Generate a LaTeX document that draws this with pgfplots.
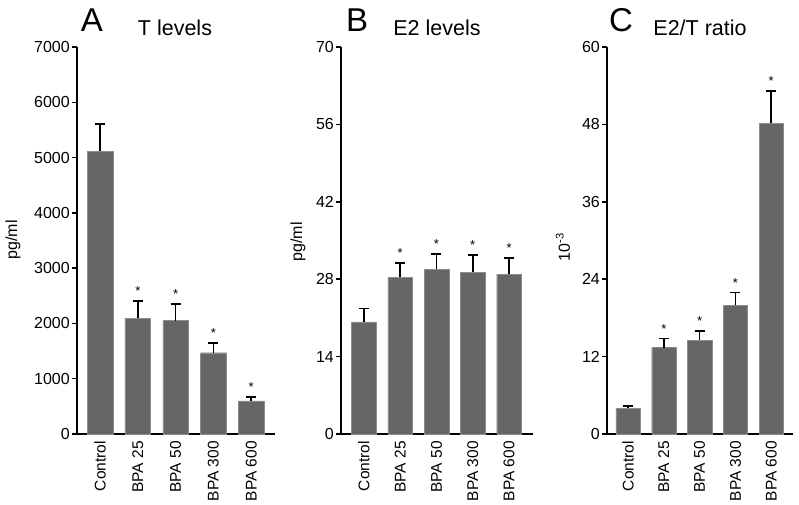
\documentclass[border=0pt]{standalone}
\usepackage{fontspec}
\setmainfont{Liberation Sans}
\usepackage{pgfplots}
\pgfplotsset{compat=1.18}
\definecolor{bargray}{RGB}{102,102,102}
\definecolor{baredge}{RGB}{140,140,140}
\pgfplotsset{
  panel/.style={
    scale only axis, anchor=south west,
    height=387pt, ymin=0,
    axis x line=bottom, axis y line=left,
    axis line style={-, line width=1.5pt, black},
    tick align=outside, major tick length=5pt,
    ytick style={line width=1.5pt, black},
    xtick style={draw=none},
    xtick={0,1,2,3,4},
    xticklabels={Control,BPA 25,BPA 50,BPA 300,BPA 600},
    xticklabel style={rotate=90, anchor=east, font=\fontsize{15.5}{17}\selectfont, inner sep=2pt},
    yticklabel style={font=\fontsize{16}{18}\selectfont, inner sep=2pt},
    /pgf/number format/assume math mode=true,
    /pgf/number format/1000 sep={},
    clip=false,
  },
  bars/.style={
    ybar, bar width=0.68, fill=bargray, draw=baredge, line width=0.4pt,
    error bars/.cd, y dir=plus, y explicit,
    error bar style={line width=1.5pt, black},
    error mark options={rotate=90, mark size=5pt, line width=1.5pt, black},
  },
}
\newcommand{\sigstar}[2]{\node[anchor=south, inner sep=0pt, font=\fontsize{13}{15}\selectfont] at (axis cs:#1,#2) [yshift=5pt] {*};}
\begin{document}
\begin{tikzpicture}
\useasboundingbox (0,0) rectangle (799pt,505pt);
% Panel A
\begin{axis}[panel, at={(77pt,71pt)}, width=198pt, xmin=-0.61, xmax=4.63,
  ymax=7000, ytick={0,1000,...,7000}]
\addplot[bars] coordinates {
  (0,5110) +- (0,500)
  (1,2095) +- (0,310)
  (2,2050) +- (0,305)
  (3,1470) +- (0,176)
  (4,597)  +- (0,73)
};
\sigstar{1}{2406}\sigstar{2}{2357}\sigstar{3}{1646}\sigstar{4}{670}
\end{axis}
% Panel B
\begin{axis}[panel, at={(341pt,71pt)}, width=192pt, xmin=-0.63, xmax=4.66,
  ymax=70, ytick={0,14,28,42,56,70}]
\addplot[bars] coordinates {
  (0,20.3) +- (0,2.4)
  (1,28.35) +- (0,2.6)
  (2,29.8) +- (0,2.8)
  (3,29.3) +- (0,3.1)
  (4,28.9) +- (0,2.9)
};
\sigstar{1}{30.98}\sigstar{2}{32.6}\sigstar{3}{32.4}\sigstar{4}{31.8}
\end{axis}
% Panel C
\begin{axis}[panel, at={(607pt,71pt)}, width=186pt, xmin=-0.59, xmax=4.61,
  ymax=60, ytick={0,12,24,36,48,60}]
\addplot[bars] coordinates {
  (0,4.0) +- (0,0.35)
  (1,13.4) +- (0,1.4)
  (2,14.5) +- (0,1.5)
  (3,19.95) +- (0,1.95)
  (4,48.2) +- (0,5.0)
};
\sigstar{1}{14.8}\sigstar{2}{16.0}\sigstar{3}{21.9}\sigstar{4}{53.2}
\end{axis}
% Labels
\node[rotate=90, font=\fontsize{16}{18}\selectfont] at (13pt,265pt) {pg/ml};
\node[rotate=90, font=\fontsize{16}{18}\selectfont] at (298pt,263pt) {pg/ml};
\node[rotate=90, font=\fontsize{16}{18}\selectfont] at (563pt,258pt) {10\textsuperscript{-3}};
% Titles
\node[anchor=base, font=\fontsize{33}{35}\selectfont, inner sep=0pt] at (92pt,473pt) {A};
\node[anchor=base, font=\fontsize{21.5}{24}\selectfont, inner sep=0pt] at (175pt,469pt) {T levels};
\node[anchor=base, font=\fontsize{33}{35}\selectfont, inner sep=0pt] at (357pt,473pt) {B};
\node[anchor=base, font=\fontsize{21.5}{24}\selectfont, inner sep=0pt] at (437pt,469pt) {E2 levels};
\node[anchor=base, font=\fontsize{33}{35}\selectfont, inner sep=0pt] at (621pt,473pt) {C};
\node[anchor=base, font=\fontsize{21.5}{24}\selectfont, inner sep=0pt] at (700pt,469pt) {E2/T ratio};
\end{tikzpicture}
\end{document}
